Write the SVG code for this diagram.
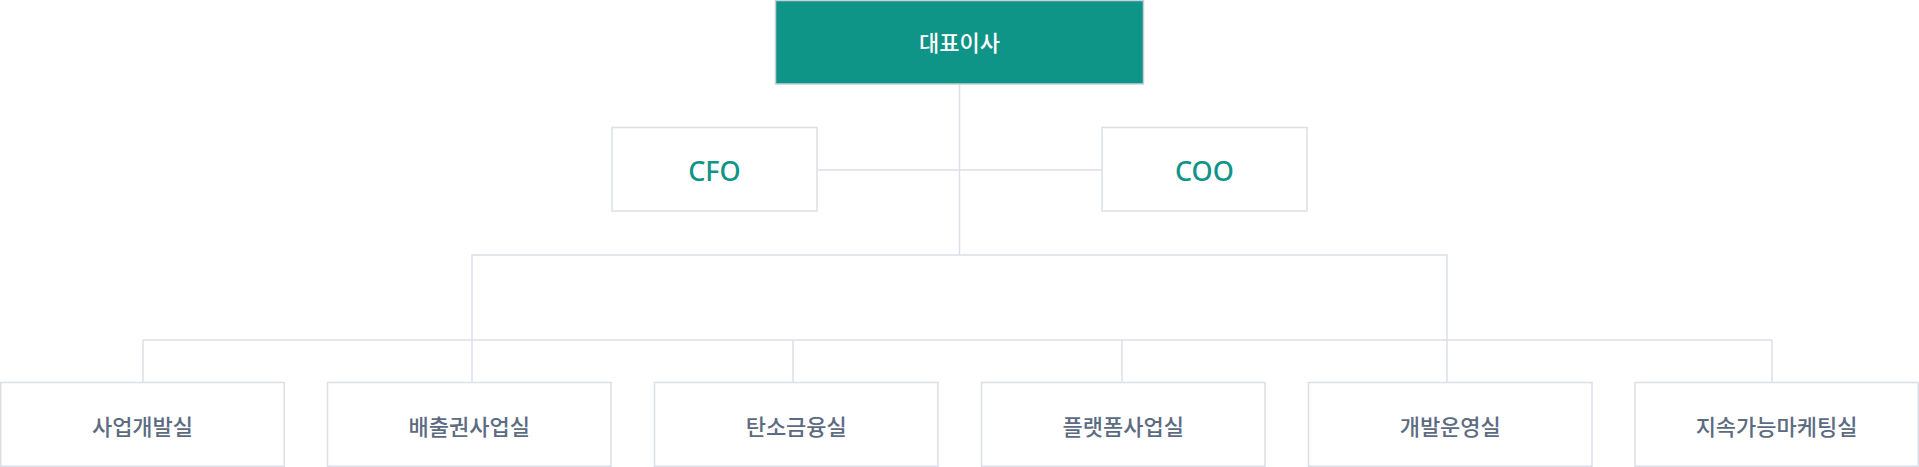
<svg xmlns="http://www.w3.org/2000/svg" width="1919" height="467" viewBox="0 0 1919 467">
<style>
.bg{fill:#ffffff}
.box{fill:#ffffff;stroke:#dcdfe7;stroke-width:1.5}
.ceo{fill:#0f9488;stroke:#c9cfd6;stroke-width:1.5}
.ln{stroke:#dcdfe7;stroke-width:1.5;fill:none}
.t{font-family:"Noto Sans CJK KR","Noto Sans",sans-serif;font-size:22px;font-weight:500;text-anchor:middle}
.dep{fill:#5d6b82}
.wh{fill:#ffffff}
.en{font-family:"Noto Sans","Liberation Sans",sans-serif;font-size:27px;font-weight:500;text-anchor:middle;fill:#0f9488}
</style>
<rect class="bg" x="0" y="0" width="1919" height="467"/>
<g id="connectors">
<line class="ln" x1="959.5" y1="84" x2="959.5" y2="255"/>
<line class="ln" x1="817" y1="170" x2="1102" y2="170"/>
<polyline class="ln" points="472,382 472,255 1447,255 1447,382"/>
<line class="ln" x1="143" y1="340" x2="1772" y2="340"/>
<line class="ln" x1="143" y1="340" x2="143" y2="382"/>
<line class="ln" x1="793" y1="340" x2="793" y2="382"/>
<line class="ln" x1="1122" y1="340" x2="1122" y2="382"/>
<line class="ln" x1="1772" y1="340" x2="1772" y2="382"/>
</g>
<g id="ceo">
<rect class="ceo" x="775.5" y="0.5" width="368" height="83.5"/>
<text class="t wh" x="959.5" y="51">대표이사</text>
</g>
<g id="cfo">
<rect class="box" x="612" y="127.5" width="205" height="83.5"/>
<text class="en" x="714.5" y="180.5">CFO</text>
</g>
<g id="coo">
<rect class="box" x="1102" y="127.5" width="205" height="83.5"/>
<text class="en" x="1204.5" y="180.5">COO</text>
</g>
<g id="dept1">
<rect class="box" x="0.75" y="382.5" width="283.5" height="83.75"/>
<text class="t dep" x="142.5" y="434.5">사업개발실</text>
</g>
<g id="dept2">
<rect class="box" x="327.5" y="382.5" width="283.5" height="83.75"/>
<text class="t dep" x="469.25" y="434.5">배출권사업실</text>
</g>
<g id="dept3">
<rect class="box" x="654.5" y="382.5" width="283.5" height="83.75"/>
<text class="t dep" x="796.25" y="434.5">탄소금융실</text>
</g>
<g id="dept4">
<rect class="box" x="981.5" y="382.5" width="283.5" height="83.75"/>
<text class="t dep" x="1123.25" y="434.5">플랫폼사업실</text>
</g>
<g id="dept5">
<rect class="box" x="1308.5" y="382.5" width="283.5" height="83.75"/>
<text class="t dep" x="1450.25" y="434.5">개발운영실</text>
</g>
<g id="dept6">
<rect class="box" x="1635" y="382.5" width="283.25" height="83.75"/>
<text class="t dep" x="1776.6" y="434.5">지속가능마케팅실</text>
</g>
</svg>
